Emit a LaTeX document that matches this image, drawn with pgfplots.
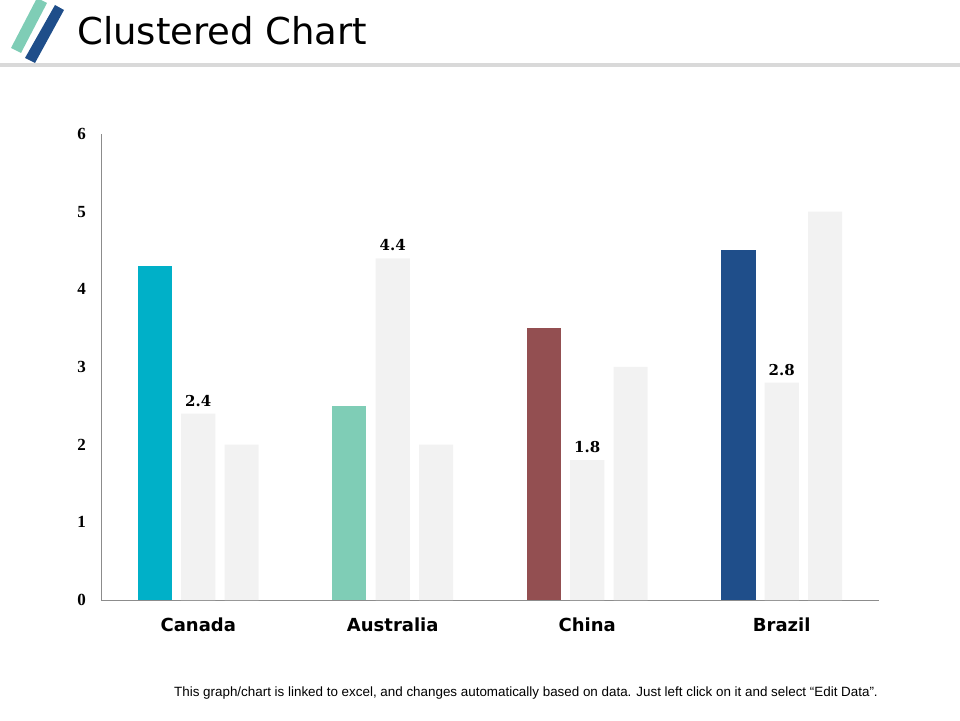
\documentclass[border=0pt]{standalone}
\usepackage{pgfplots}
\pgfplotsset{compat=1.18}
\usepackage{fontspec}
\setmainfont{DejaVu Sans}
\newfontfamily\numfont{Liberation Serif}
\newfontfamily\labfont{DejaVu Serif}
\newfontfamily\footfont{Liberation Sans}

\definecolor{cCanada}{HTML}{00B0C8}
\definecolor{cAustralia}{HTML}{7FCDB6}
\definecolor{cChina}{HTML}{934F51}
\definecolor{cBrazil}{HTML}{1F4E8A}
\definecolor{barGray}{HTML}{F2F2F2}
\definecolor{axisGray}{HTML}{8C8C8C}
\definecolor{ruleGray}{HTML}{D9D9D9}

\begin{document}
\begin{tikzpicture}
\useasboundingbox (0pt,0pt) rectangle (960pt,720pt);
% header: logo, title, rule
\fill[cAustralia] (37pt,722pt) -- (47pt,717pt) -- (21pt,667pt) -- (11pt,672pt) -- cycle;
\fill[cBrazil] (55pt,715pt) -- (64pt,710pt) -- (35pt,657pt) -- (25pt,662pt) -- cycle;
\node[anchor=base west, inner sep=0pt, font=\fontsize{37}{44}\selectfont] at (77pt,675pt) {Clustered Chart};
\fill[ruleGray] (0pt,657pt) rectangle (960pt,653pt);

\begin{axis}[
  at={(101pt,120pt)}, anchor=south west,
  scale only axis, width=778pt, height=466pt,
  xmin=-0.5, xmax=3.5, ymin=0, ymax=6,
  axis x line=bottom, axis y line=left,
  axis line style={-, draw=axisGray, line width=0.8pt},
  major tick length=0pt,
  xtick={0,1,2,3},
  xticklabels={Canada,Australia,China,Brazil},
  ytick={0,1,2,3,4,5,6},
  /pgf/number format/assume math mode=true,
  xticklabel style={font=\bfseries\fontsize{18}{21}\selectfont, inner sep=0pt, anchor=north, yshift=-18pt},
  yticklabel style={font=\numfont\bfseries\fontsize{17}{20}\selectfont, inner sep=0pt, anchor=east, xshift=-15pt},
  clip=false,
]
\addplot[ybar, bar width=0.175, bar shift=-0.2225, fill=cCanada, draw=none] coordinates {(0,4.3)};
\addplot[ybar, bar width=0.175, bar shift=-0.2225, fill=cAustralia, draw=none] coordinates {(1,2.5)};
\addplot[ybar, bar width=0.175, bar shift=-0.2225, fill=cChina, draw=none] coordinates {(2,3.5)};
\addplot[ybar, bar width=0.175, bar shift=-0.2225, fill=cBrazil, draw=none] coordinates {(3,4.5)};
\addplot[ybar, bar width=0.175, bar shift=0, fill=barGray, draw=none,
  nodes near coords,
  nodes near coords style={font=\labfont\bfseries\fontsize{15}{18}\selectfont, text=black, inner sep=0pt, yshift=7pt}]
  coordinates {(0,2.4) (1,4.4) (2,1.8) (3,2.8)};
\addplot[ybar, bar width=0.175, bar shift=0.2225, fill=barGray, draw=none]
  coordinates {(0,2) (1,2) (2,3) (3,5)};
\end{axis}

\node[anchor=base east, inner sep=0pt, font=\footfont\fontsize{13.4}{16}\selectfont] at (878pt,24pt)
  {This graph/chart is linked to excel, and changes automatically based on data. Just left click on it and select “Edit Data”.};
\end{tikzpicture}
\end{document}
